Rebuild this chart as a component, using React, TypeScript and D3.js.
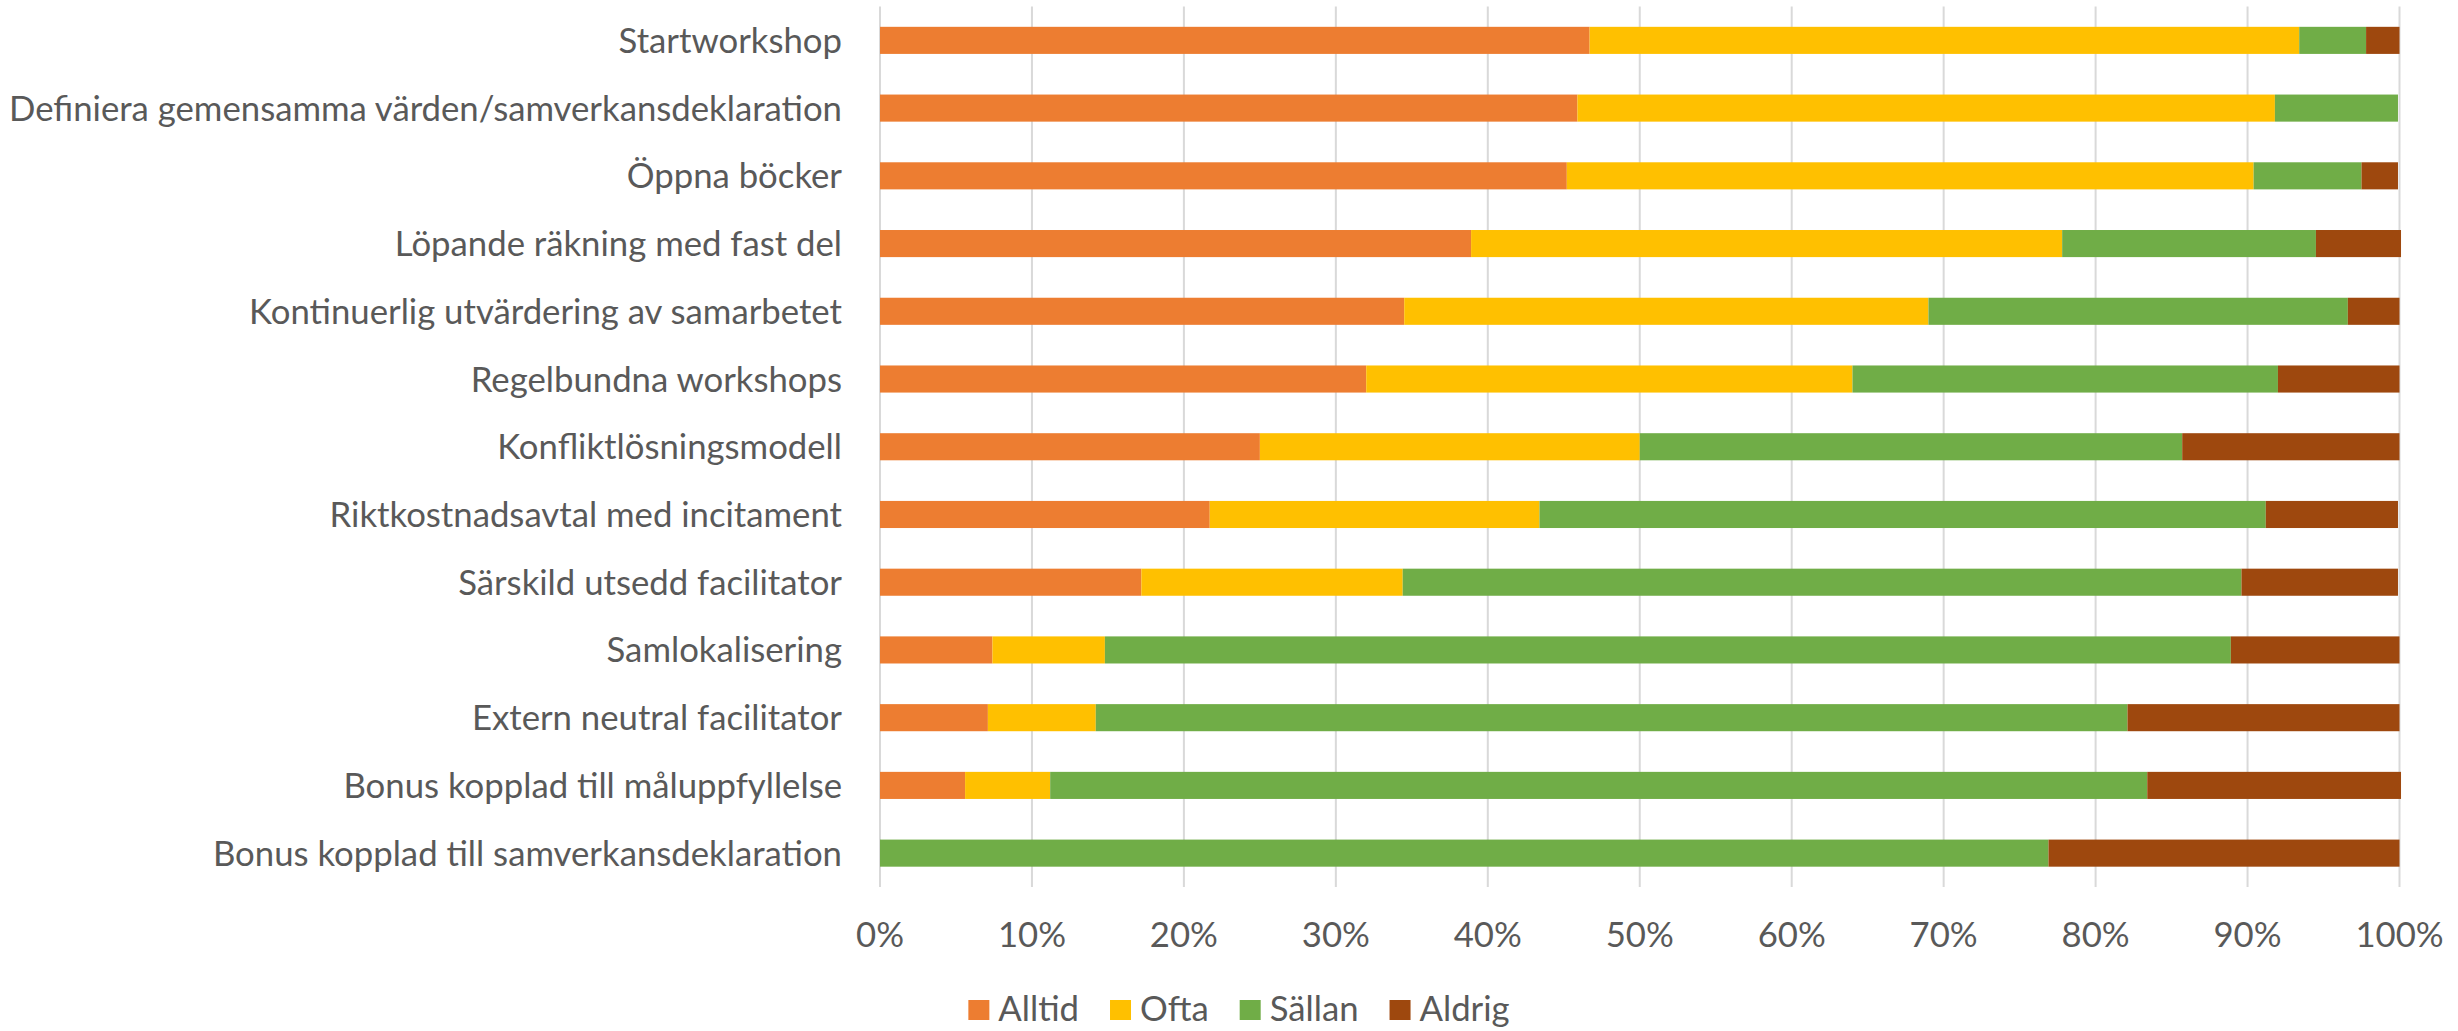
import React from "react";
import * as d3 from "d3";

const categories = [
  "Startworkshop",
  "Definiera gemensamma värden/samverkansdeklaration",
  "Öppna böcker",
  "Löpande räkning med fast del",
  "Kontinuerlig utvärdering av samarbetet",
  "Regelbundna workshops",
  "Konfliktlösningsmodell",
  "Riktkostnadsavtal med incitament",
  "Särskild utsedd facilitator",
  "Samlokalisering",
  "Extern neutral facilitator",
  "Bonus kopplad till måluppfyllelse",
  "Bonus kopplad till samverkansdeklaration",
];

const alltid = [46.7, 45.9, 45.2, 38.9, 34.5, 32.0, 25.0, 21.7, 17.2, 7.4, 7.1, 5.6, 0];
const ofta = [46.7, 45.9, 45.2, 38.9, 34.5, 32.0, 25.0, 21.7, 17.2, 7.4, 7.1, 5.6, 0];
const sallan = [4.4, 8.1, 7.1, 16.7, 27.6, 28.0, 35.7, 47.8, 55.2, 74.1, 67.9, 72.2, 76.9];
const aldrig = [2.2, 0, 2.4, 5.6, 3.4, 8.0, 14.3, 8.7, 10.3, 11.1, 17.9, 16.7, 23.1];

const seriesNames = ["Alltid", "Ofta", "Sällan", "Aldrig"];
const seriesColors = ["#ED7D31", "#FFC000", "#70AD47", "#9E480E"];
const xTicks = [0, 10, 20, 30, 40, 50, 60, 70, 80, 90, 100];

const W = 2458;
const H = 1031;
const FONT = "Lato, 'Liberation Sans', sans-serif";
const TEXT = "#595959";

function measure(t: string, fs: number) {
  const c = document.createElement("canvas").getContext("2d");
  if (!c) return t.length * fs * 0.45;
  c.font = `${fs}px ${FONT}`;
  return c.measureText(t).width;
}

export default function App() {
  // fit font so that the longest label spans like the reference (~834px)
  const longest = categories.reduce((a, b) => (measure(b, 36) > measure(a, 36) ? b : a));
  const FS = Math.min(38, (36 * 834) / measure(longest, 36));

  const rows = categories.map((c, i) => ({
    cat: c,
    Alltid: alltid[i],
    Ofta: ofta[i],
    "Sällan": sallan[i],
    Aldrig: aldrig[i],
  }));
  const stack = d3.stack<any>().keys(seriesNames)(rows);

  const x = d3.scaleLinear().domain([0, 100]).range([880, 2399.5]);
  const y = d3
    .scaleBand<string>()
    .domain(categories)
    .range([6.5, 887])
    .paddingInner(0.6)
    .paddingOuter(0.3);

  const capOff = FS * 0.36;

  // legend layout
  const sw = 21;
  const gapSwText = 9;
  const gapItems = 31;
  const widths = seriesNames.map((s) => measure(s, FS));
  const total =
    widths.reduce((a, b) => a + b, 0) + seriesNames.length * (sw + gapSwText) + (seriesNames.length - 1) * gapItems;
  let lx = 1239 - total / 2;
  const legendItems = seriesNames.map((s, i) => {
    const item = { name: s, color: seriesColors[i], x: lx };
    lx += sw + gapSwText + widths[i] + gapItems;
    return item;
  });

  return (
    <svg
      width={W}
      height={H}
      style={{ position: "absolute", left: 0, top: 0, background: "#fff" }}
      fontFamily={FONT}
    >
      <rect x={0} y={0} width={W} height={H} fill="#fff" />
      {xTicks.map((t) => (
        <line
          key={t}
          x1={x(t)}
          x2={x(t)}
          y1={6.5}
          y2={887}
          stroke="#D9D9D9"
          strokeWidth={2}
        />
      ))}
      {stack.map((s, si) => (
        <g key={s.key} fill={seriesColors[si]}>
          {s.map((d, i) => (
            <rect
              key={i}
              x={x(d[0])}
              width={Math.max(0, x(d[1]) - x(d[0]))}
              y={y(categories[i])}
              height={y.bandwidth()}
            />
          ))}
        </g>
      ))}
      {categories.map((c) => (
        <text
          key={c}
          x={842}
          y={(y(c) as number) + y.bandwidth() / 2 + capOff}
          textAnchor="end"
          fontSize={FS}
          fill={TEXT}
        >
          {c}
        </text>
      ))}
      {xTicks.map((t) => (
        <text key={t} x={x(t)} y={947} textAnchor="middle" fontSize={FS} fill={TEXT}>
          {t + "%"}
        </text>
      ))}
      {legendItems.map((it) => (
        <g key={it.name}>
          <rect x={it.x} y={1000} width={sw} height={20} fill={it.color} />
          <text x={it.x + sw + gapSwText} y={1021} fontSize={FS} fill={TEXT}>
            {it.name}
          </text>
        </g>
      ))}
    </svg>
  );
}
